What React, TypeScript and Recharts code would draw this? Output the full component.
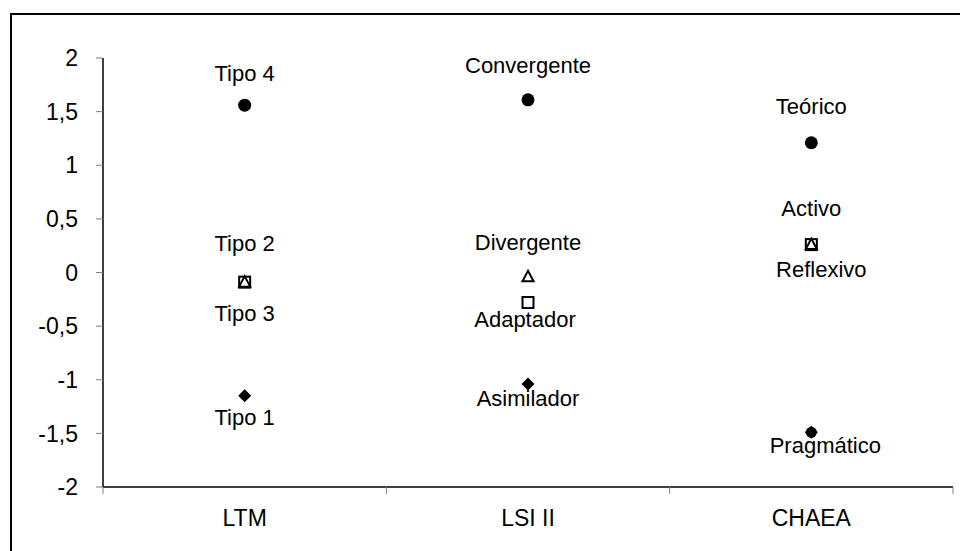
import React from 'react';
import { ComposedChart, Line, XAxis, YAxis } from 'recharts';

const categories = ['LTM', 'LSI II', 'CHAEA'];
const circleValues = [1.56, 1.61, 1.21];
const squareValues = [-0.09, -0.28, 0.26];
const triangleValues = [-0.09, -0.04, 0.26];
const diamondValues = [-1.15, -1.04, -1.49];
const circleLabels = ['Tipo 4', 'Convergente', 'Teórico'];
const squareLabels = ['Tipo 2', 'Adaptador', 'Reflexivo'];
const triangleLabels = ['Tipo 3', 'Divergente', 'Activo'];
const diamondLabels = ['Tipo 1', 'Asimilador', 'Pragmático'];
const yTicks = [-2, -1.5, -1, -0.5, 0, 0.5, 1, 1.5, 2];

// label placement offsets (style, relative to the marker)
const circleLabelDy = [-32, -34, -36];
const circleLabelDx = [0, 0, 0];
const squareLabelDy = [-39, 17, 25];
const squareLabelDx = [0, -3, 10];
const triangleLabelDy = [31, -34, -36];
const triangleLabelDx = [0, 0, 0];
const diamondLabelDy = [22, 14, 13];
const diamondLabelDx = [0, 0, 14];

const data = categories.map((cat, i) => ({
  cat,
  circle: circleValues[i],
  square: squareValues[i],
  triangle: triangleValues[i],
  diamond: diamondValues[i],
}));

const FONT = '"Liberation Sans", Arial, sans-serif';
const W = 960;
const H = 551;
const M = { top: 58, right: 7, bottom: 0, left: 0 };
const Y_W = 103;
const X_H = 64;
const PLOT_W = W - M.left - M.right - Y_W;

type Kind = 'circle' | 'square' | 'triangle' | 'diamond';

function marker(kind: Kind, cx: number, cy: number, index: number) {
  if (kind === 'circle') return <circle cx={cx} cy={cy} r={6.5} fill="#000" />;
  if (kind === 'square')
    return <rect x={cx - 5.5} y={cy - 5.5} width={11} height={11} fill="none" stroke="#000" strokeWidth={2} />;
  if (kind === 'triangle')
    return (
      <polygon
        points={`${cx},${cy - 6} ${cx + 5.5},${cy + 4.5} ${cx - 5.5},${cy + 4.5}`}
        fill="none"
        stroke="#000"
        strokeWidth={2}
      />
    );
  return (
    <g>
      {index === 2 && <circle cx={cx} cy={cy} r={5.5} fill="#000" />}
      <polygon points={`${cx},${cy - 6.5} ${cx + 6.5},${cy} ${cx},${cy + 6.5} ${cx - 6.5},${cy}`} fill="#000" />
    </g>
  );
}

function makeDot(kind: Kind, labels: string[], dys: number[], dxs: number[]) {
  return (props: any) => {
    const { cx, cy, index } = props;
    if (cx == null || cy == null) return <g key={`${kind}-${index}`} />;
    return (
      <g key={`${kind}-${index}`}>
        {marker(kind, cx, cy, index)}
        <text
          x={cx + dxs[index]}
          y={cy + dys[index]}
          textAnchor="middle"
          dominantBaseline="central"
          fontFamily={FONT}
          fontSize={22}
          fill="#000"
        >
          {labels[index]}
        </text>
      </g>
    );
  };
}

const XTick = (props: any) => {
  const { x, y, payload, index } = props;
  const bw = PLOT_W / categories.length;
  return (
    <g>
      <line x1={x - bw / 2} y1={y} x2={x - bw / 2} y2={y + 7} stroke="#808080" strokeWidth={1} />
      {index === categories.length - 1 && (
        <line x1={x + bw / 2} y1={y} x2={x + bw / 2} y2={y + 7} stroke="#808080" strokeWidth={1} />
      )}
      <text x={x} y={y + 31} textAnchor="middle" dominantBaseline="central" fontFamily={FONT} fontSize={23} fill="#000">
        {payload.value}
      </text>
    </g>
  );
};

export default function App() {
  return (
    <div style={{ position: 'fixed', left: 0, top: 0, width: W, height: H, overflow: 'hidden', background: '#fff' }}>
      <div
        style={{
          position: 'absolute',
          left: 10,
          top: 13,
          width: W + 20,
          height: H + 20,
          borderLeft: '2px solid #000',
          borderTop: '2px solid #000',
          boxSizing: 'border-box',
        }}
      />
      <div style={{ position: 'absolute', left: 0, top: 0 }}>
        <ComposedChart width={W} height={H} data={data} margin={M}>
          <XAxis
            dataKey="cat"
            scale="band"
            height={X_H}
            tickLine={false}
            tickSize={0}
            tickMargin={0}
            axisLine={{ stroke: '#000', strokeWidth: 1.5 }}
            tick={<XTick />}
            interval={0}
          />
          <YAxis
            width={Y_W}
            domain={[-2, 2]}
            ticks={yTicks}
            type="number"
            allowDataOverflow
            tickSize={7}
            tickMargin={18}
            tickLine={{ stroke: '#808080' }}
            axisLine={{ stroke: '#000', strokeWidth: 1.5 }}
            tickFormatter={(v: number) => String(v).replace('.', ',')}
            tick={{ fontFamily: FONT, fontSize: 23, fill: '#000' }}
          />
          <Line dataKey="circle" stroke="none" isAnimationActive={false} dot={makeDot('circle', circleLabels, circleLabelDy, circleLabelDx)} activeDot={false} />
          <Line dataKey="diamond" stroke="none" isAnimationActive={false} dot={makeDot('diamond', diamondLabels, diamondLabelDy, diamondLabelDx)} activeDot={false} />
          <Line dataKey="square" stroke="none" isAnimationActive={false} dot={makeDot('square', squareLabels, squareLabelDy, squareLabelDx)} activeDot={false} />
          <Line dataKey="triangle" stroke="none" isAnimationActive={false} dot={makeDot('triangle', triangleLabels, triangleLabelDy, triangleLabelDx)} activeDot={false} />
        </ComposedChart>
      </div>
    </div>
  );
}
